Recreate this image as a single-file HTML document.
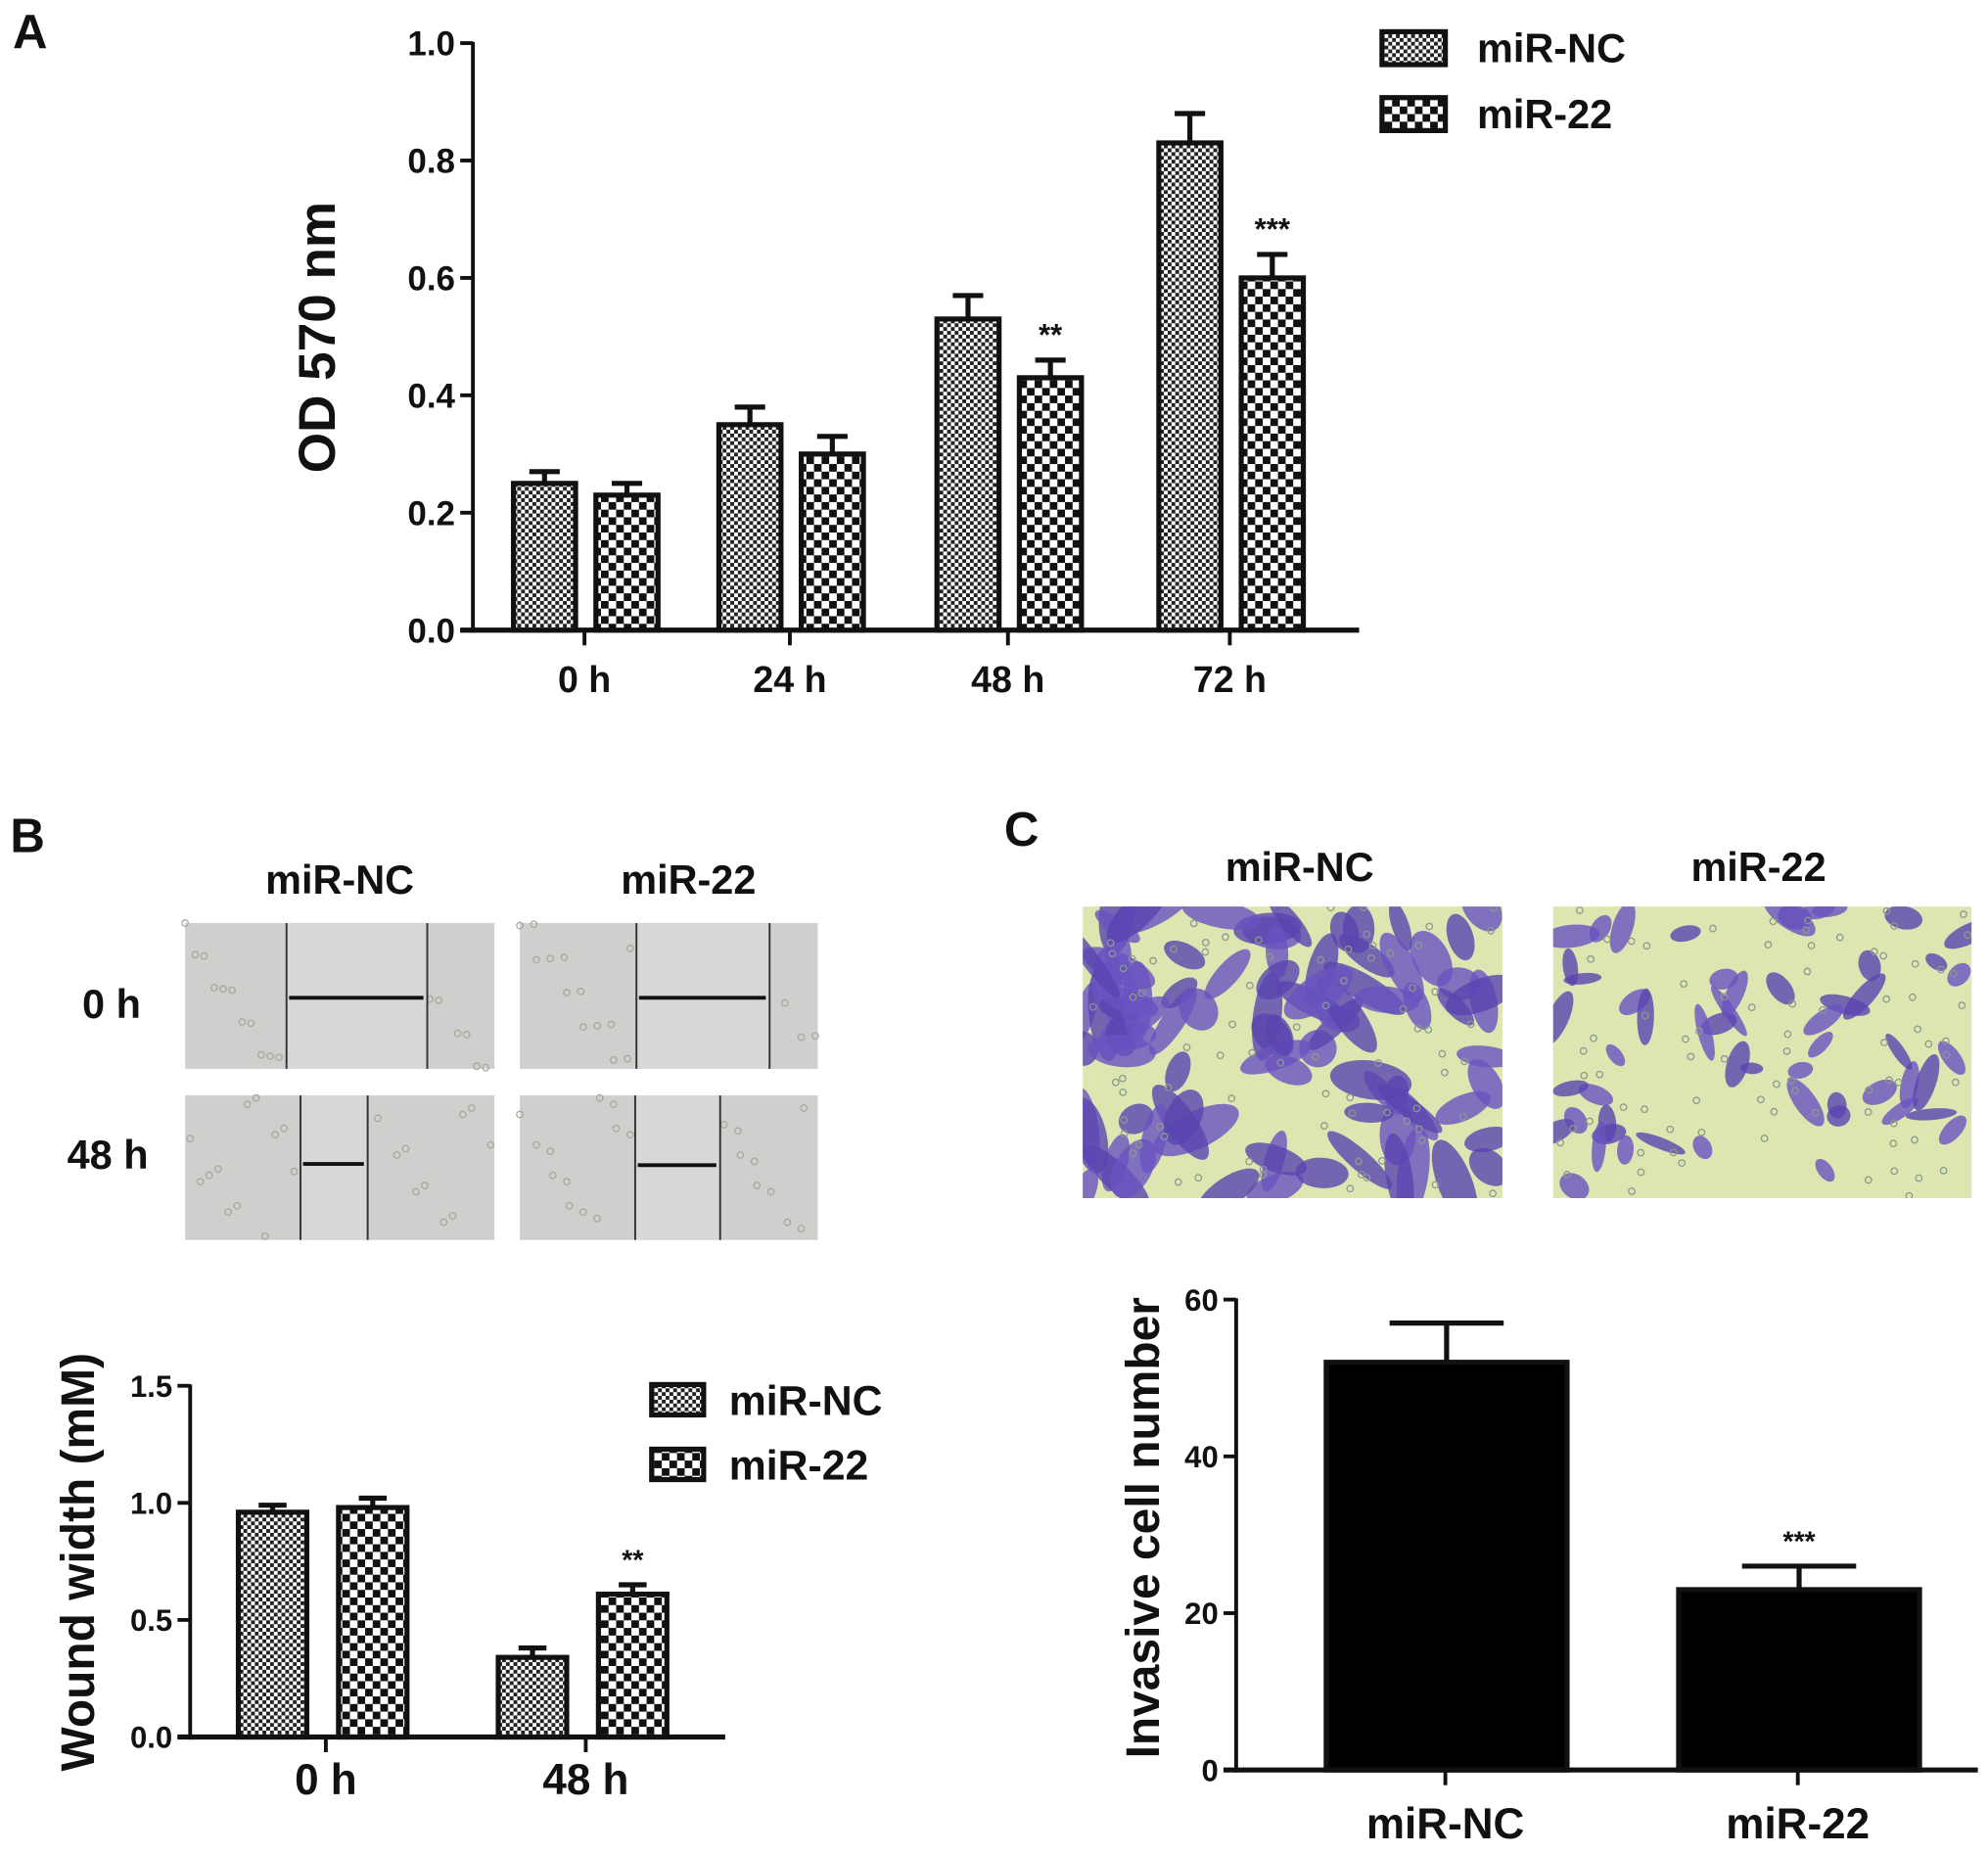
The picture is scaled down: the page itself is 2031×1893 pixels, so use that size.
<!DOCTYPE html>
<html><head><meta charset="utf-8"><style>
html,body{margin:0;padding:0;background:#fff}
svg{display:block}
text{font-family:"Liberation Sans",Arial,sans-serif;font-weight:bold;fill:#111}
</style></head><body>
<svg id="fig" width="2031" height="1893" viewBox="0 0 1568 1461.5" preserveAspectRatio="none">
<defs>
<pattern id="pFine" width="6" height="6" patternUnits="userSpaceOnUse"><rect width="6" height="6" fill="#fff"/><rect width="3" height="3" fill="#222"/><rect x="3" y="3" width="3" height="3" fill="#222"/></pattern>
<pattern id="pCoarse" width="12" height="12" patternUnits="userSpaceOnUse"><rect width="12" height="12" fill="#fff"/><rect width="6" height="6" fill="#111"/><rect x="6" y="6" width="6" height="6" fill="#111"/></pattern>
</defs>
<g id="panelA"></g>
<g id="panelB"></g>
<g id="panelC"></g>
</svg>
<script>
// ---- Panel A data ----
const aCategories = ["0 h","24 h","48 h","72 h"];
const aNC = [0.25,0.35,0.53,0.83];
const aNCerr = [0.02,0.03,0.04,0.05];
const a22 = [0.23,0.30,0.43,0.60];
const a22err = [0.02,0.03,0.03,0.04];
const aStars = ["","","**","***"];
const aTicks = ["0.0","0.2","0.4","0.6","0.8","1.0"];
// ---- Panel B data ----
const bCategories = ["0 h","48 h"];
const bNC = [0.96,0.34];
const bNCerr = [0.03,0.04];
const b22 = [0.98,0.61];
const b22err = [0.04,0.04];
const bStars = ["","**"];
const bTicks = ["0.0","0.5","1.0","1.5"];
// ---- Panel C data ----
const cCategories = ["miR-NC","miR-22"];
const cValues = [52,23];
const cErr = [5,3];
const cStars = ["","***"];
const cTicks = ["0","20","40","60"];

const NS="http://www.w3.org/2000/svg";
function el(parent,tag,attrs,txt){const e=document.createElementNS(NS,tag);for(const k in attrs)e.setAttribute(k,attrs[k]);if(txt!==undefined)e.textContent=txt;parent.appendChild(e);return e;}

function barChart(g,o){
  const y=v=>o.y0-(v-o.vmin)/(o.vmax-o.vmin)*(o.y0-o.y1);
  const ya=el(g,'line',{x1:o.x0,y1:o.y1-1,x2:o.x0,y2:o.y0+2,stroke:'#111','stroke-width':3});
  
  
  const xa=el(g,'line',{x1:o.x0-10,y1:o.y0,x2:o.xEnd,y2:o.y0,stroke:'#111','stroke-width':4});
  
  
  o.ticks.forEach(t=>{
    const v=parseFloat(t), yy=y(v);
    el(g,'line',{x1:o.x0-10,y1:yy,x2:o.x0,y2:yy,stroke:'#111','stroke-width':3});
    const tl=el(g,'text',{x:o.x0-14,y:yy+o.tickFs*0.36,'text-anchor':'end','font-size':o.tickFs},t);
    
    
  });
  o.cats.forEach((c,i)=>{
    const cx=o.cx[i];
    el(g,'line',{x1:cx,y1:o.y0,x2:cx,y2:o.y0+12,stroke:'#111','stroke-width':3});
    const xl=el(g,'text',{x:cx,y:o.labY,'text-anchor':'middle','font-size':o.labFs},c);
    
    
    o.series.forEach((s,j)=>{
      const bx=cx+s.off, v=s.vals[i], top=y(v), et=y(v+s.err[i]);
      el(g,'line',{x1:bx+o.bw/2,y1:top,x2:bx+o.bw/2,y2:et,stroke:'#111','stroke-width':4});
      el(g,'line',{x1:bx+o.bw/2-o.cap,y1:et,x2:bx+o.bw/2+o.cap,y2:et,stroke:'#111','stroke-width':4});
      const r=el(g,'rect',{x:bx,y:top,width:o.bw,height:o.y0-top,fill:s.fill,stroke:'#111','stroke-width':4});
      
      
      if(s.stars&&s.stars[i]){
        const st=el(g,'text',{x:bx+o.bw/2,y:et-12,'text-anchor':'middle','font-size':o.starFs},s.stars[i]);
        
        
      }
    });
  });
}

// Panel A
const A=document.getElementById('panelA');
el(A,'text',{x:10,y:38,'font-size':38},'A');
barChart(A,{x0:373,y0:497,y1:34,vmin:0,vmax:1,xEnd:1072,ticks:aTicks,tickFs:27,cats:aCategories,cx:[461,623,795,970],labY:546,labFs:29,bw:49,cap:12,starFs:24,
 series:[{name:'mir-nc',vals:aNC,err:aNCerr,off:-56,fill:'url(#pFine)'},{name:'mir-22',vals:a22,err:a22err,off:9,fill:'url(#pCoarse)',stars:aStars}]});
const at=el(A,'text',{x:0,y:0,'font-size':41,transform:'translate(264,266) rotate(-90)','text-anchor':'middle'},'OD 570 nm');


[['mir-nc','miR-NC','url(#pFine)',25],['mir-22','miR-22','url(#pCoarse)',77]].forEach(l=>{
  const lg=el(A,'g',{});
  
  
  el(lg,'rect',{x:1090,y:l[3],width:50,height:26,fill:l[2],stroke:'#111','stroke-width':4});
  el(lg,'text',{x:1165,y:l[3]+24,'font-size':32},l[1]);
});

// Panel B
const B=document.getElementById('panelB');
el(B,'text',{x:8,y:672,'font-size':38},'B');
el(B,'text',{x:268,y:705,'text-anchor':'middle','font-size':32},'miR-NC');
el(B,'text',{x:543,y:705,'text-anchor':'middle','font-size':32},'miR-22');
el(B,'text',{x:88,y:803,'text-anchor':'middle','font-size':32},'0 h');
el(B,'text',{x:85,y:922,'text-anchor':'middle','font-size':32},'48 h');
const wounds=[[146,728,244,115,226,337,787],[410,728,235,115,502,607,787],[146,864,244,114,237,290,918],[410,864,235,114,501,568,919]];
const wNames=['wound-image-nc-0h','wound-image-22-0h','wound-image-nc-48h','wound-image-22-48h'];
wounds.forEach((w,i)=>{
  const g=el(B,'g',{});
  
  
  el(g,'rect',{x:w[0],y:w[1],width:w[2],height:w[3],fill:'#cfcfcd'});
  el(g,'rect',{x:w[4],y:w[1],width:w[5]-w[4],height:w[3],fill:'#d8d8d8'});
  for(let k=0;k<30;k++){const px=w[0]+((k*37+i*13)%w[2]);if(px>w[4]-2&&px<w[5]+2)continue;el(g,'circle',{cx:px,cy:w[1]+((k*53+i*29)%w[3]),r:2.5,fill:'none',stroke:'#aaa89a','stroke-width':1});}
  el(g,'line',{x1:w[4],y1:w[1],x2:w[4],y2:w[1]+w[3],stroke:'#333','stroke-width':1.5});
  el(g,'line',{x1:w[5],y1:w[1],x2:w[5],y2:w[1]+w[3],stroke:'#333','stroke-width':1.5});
  el(g,'line',{x1:w[4]+2,y1:w[6],x2:w[5]-3,y2:w[6],stroke:'#111','stroke-width':3});
});
barChart(B,{x0:150,y0:1370,y1:1093,vmin:0,vmax:1.5,xEnd:572,ticks:bTicks,tickFs:24,cats:bCategories,cx:[257,462],labY:1415,labFs:34,bw:54,cap:11,starFs:22,
 series:[{name:'mir-nc',vals:bNC,err:bNCerr,off:-69,fill:'url(#pFine)'},{name:'mir-22',vals:b22,err:b22err,off:10,fill:'url(#pCoarse)',stars:bStars}]});
const bt=el(B,'text',{x:0,y:0,'font-size':37,transform:'translate(74,1232) rotate(-90)','text-anchor':'middle'},'Wound width (mM)');


[['mir-nc','miR-NC','url(#pFine)',1092],['mir-22','miR-22','url(#pCoarse)',1143]].forEach(l=>{
  const lg=el(B,'g',{});
  
  
  el(lg,'rect',{x:514,y:l[3],width:41,height:24,fill:l[2],stroke:'#111','stroke-width':4});
  el(lg,'text',{x:575,y:l[3]+24,'font-size':33},l[1]);
});

// Panel C
const C=document.getElementById('panelC');
el(C,'text',{x:792,y:667,'font-size':38},'C');
el(C,'text',{x:1025,y:695,'text-anchor':'middle','font-size':32},'miR-NC');
el(C,'text',{x:1387,y:695,'text-anchor':'middle','font-size':32},'miR-22');
function cells(x,y,w,h,n,seed,sizeK,name){
  const g=el(C,'g',{});
  
  
  el(g,'rect',{x:x,y:y,width:w,height:h,fill:'#dde6b0'});
  const cp=el(g,'clipPath',{id:name+'-clip'});el(cp,'rect',{x:x,y:y,width:w,height:h});
  const inner=el(g,'g',{'clip-path':'url(#'+name+'-clip)'});
  let s=seed;const rnd=()=>{s=(s*9301+49297)%233280;return s/233280;};
  for(let k=0;k<n;k++){const cx=x+rnd()*w,cy=y+rnd()*h,a=rnd()*180;
    el(inner,'ellipse',{cx:cx,cy:cy,rx:(8+rnd()*14)*sizeK,ry:(4+rnd()*5)*sizeK,fill:rnd()>0.5?'#6a52c0':'#5a45b0',opacity:0.8,transform:`rotate(${a} ${cx} ${cy})`});}
  for(let k=0;k<80;k++){el(inner,'circle',{cx:x+rnd()*w,cy:y+rnd()*h,r:2.5,fill:'none',stroke:'#8a9a90','stroke-width':1});}
}
cells(854,715,331,230,90,7,1.7,'transwell-image-mir-nc');
cells(1225,715,330,230,55,11,1.1,'transwell-image-mir-22');
barChart(C,{x0:975,y0:1396,y1:1025,vmin:0,vmax:60,xEnd:1560,ticks:cTicks,tickFs:24,cats:cCategories,cx:[1140,1418],labY:1450,labFs:34,bw:190,cap:45,starFs:22,
 series:[{name:'invasive',vals:cValues,err:cErr,off:-94,fill:'#000',stars:cStars}]});
const ct=el(C,'text',{x:0,y:0,'font-size':37,transform:'translate(914,1205) rotate(-90)','text-anchor':'middle'},'Invasive cell number');


</script>
</body></html>
